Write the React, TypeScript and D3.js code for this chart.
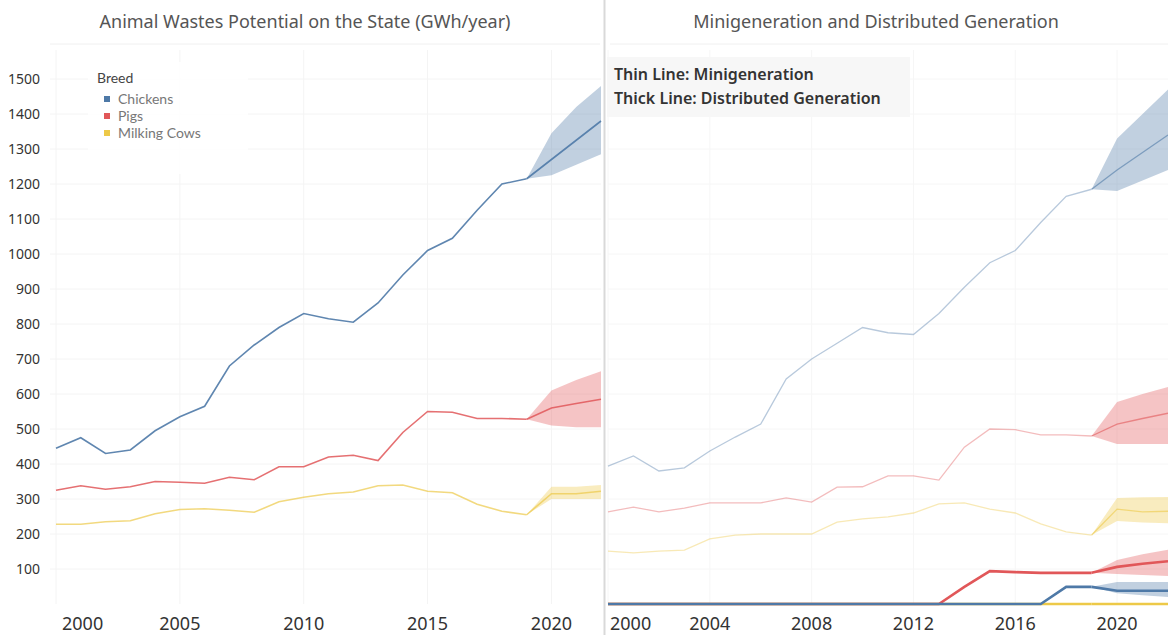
import React from "react";
import * as d3 from "d3";

// historical years and forecast years (forecast starts at last actual point)
const years = [2000, 2001, 2002, 2003, 2004, 2005, 2006, 2007, 2008, 2009, 2010, 2011, 2012, 2013, 2014, 2015, 2016, 2017, 2018, 2019];
const fcYears = [2019, 2020, 2021, 2022];

// left panel: animal wastes potential (GWh/year)
const chickens = [445, 475, 430, 440, 495, 535, 565, 680, 740, 790, 830, 815, 805, 860, 940, 1010, 1045, 1125, 1200, 1215];
const chickensFc = [1215, 1270, 1325, 1380];
const chickensLo = [1215, 1225, 1255, 1285];
const chickensHi = [1215, 1345, 1420, 1480];

const pigs = [325, 338, 328, 335, 350, 348, 345, 362, 355, 392, 392, 420, 425, 410, 490, 550, 548, 530, 530, 528];
const pigsFc = [528, 560, 573, 585];
const pigsLo = [528, 510, 505, 505];
const pigsHi = [528, 610, 640, 665];

const cows = [228, 228, 235, 238, 258, 270, 272, 268, 262, 292, 305, 315, 320, 338, 340, 322, 318, 285, 265, 255];
const cowsFc = [255, 315, 315, 322];
const cowsLo = [255, 300, 300, 300];
const cowsHi = [255, 335, 335, 340];

// right panel: minigeneration (thin lines)
const chickensMini = [394, 423, 380, 389, 437, 477, 514, 643, 700, 745, 790, 775, 770, 830, 905, 975, 1010, 1090, 1165, 1185];
const chickensMiniFc = [1185, 1240, 1290, 1340];
const chickensMiniLo = [1185, 1180, 1210, 1240];
const chickensMiniHi = [1185, 1330, 1400, 1470];

const pigsMini = [263, 277, 263, 274, 289, 289, 289, 303, 291, 334, 335, 366, 366, 354, 448, 500, 498, 483, 483, 480];
const pigsMiniFc = [480, 514, 530, 545];
const pigsMiniLo = [480, 457, 457, 457];
const pigsMiniHi = [480, 577, 600, 620];

const cowsMini = [151, 146, 151, 154, 186, 197, 200, 200, 200, 234, 243, 249, 260, 286, 289, 271, 260, 229, 206, 197];
const cowsMiniFc = [197, 271, 263, 265];
const cowsMiniLo = [197, 237, 233, 231];
const cowsMiniHi = [197, 303, 305, 306];

// right panel: distributed generation (thick lines)
const chickensDist = [0, 0, 0, 0, 0, 0, 0, 0, 0, 0, 0, 0, 0, 0, 0, 0, 0, 0, 49, 49];
const chickensDistFc = [49, 38, 38, 38];
const chickensDistLo = [49, 31, 25, 20];
const chickensDistHi = [49, 63, 63, 63];

const pigsDist = [0, 0, 0, 0, 0, 0, 0, 0, 0, 0, 0, 0, 0, 0, 49, 94, 91, 89, 89, 89];
const pigsDistFc = [89, 106, 115, 122];
const pigsDistLo = [89, 86, 83, 80];
const pigsDistHi = [89, 126, 142, 155];

const cowsDist = [0, 0, 0, 0, 0, 0, 0, 0, 0, 0, 0, 0, 0, 0, 0, 0, 0, 0, 0, 0];
const cowsDistFc = [0, 0, 0, 0];

const breeds = ["Chickens", "Pigs", "Milking Cows"];
const yTicks = [100, 200, 300, 400, 500, 600, 700, 800, 900, 1000, 1100, 1200, 1300, 1400, 1500];
const leftXTicks = [2000, 2005, 2010, 2015, 2020];
const rightXTicks = [2000, 2004, 2008, 2012, 2016, 2020];

const colors = ["#4e79a7", "#e15759", "#edc948"];
const font = "'Noto Sans', 'Open Sans', sans-serif";

const W = 1168;
const H = 635;

const y = d3.scaleLinear().domain([0, 1500]).range([604, 79]);
const xLeft = d3.scaleLinear().domain([2000, 2022]).range([56, 601]);
const xRight = d3.scaleLinear().domain([2000, 2022]).range([608, 1168]);

type S = d3.ScaleLinear<number, number>;

const linePath = (x: S, xs: number[], vs: number[]) =>
  d3.line<number>().x((_, i) => x(xs[i])).y((v) => y(v))(vs) || "";

const bandPath = (x: S, lo: number[], hi: number[]) =>
  d3.area<number>()
    .x((_, i) => x(fcYears[i]))
    .y0((_, i) => y(lo[i]))
    .y1((v) => y(v))(hi) || "";

const App = () => {
  const left = [
    { hist: chickens, fc: chickensFc, lo: chickensLo, hi: chickensHi, o: 0.9 },
    { hist: pigs, fc: pigsFc, lo: pigsLo, hi: pigsHi, o: 0.85 },
    { hist: cows, fc: cowsFc, lo: cowsLo, hi: cowsHi, o: 0.7 },
  ];
  const mini = [
    { hist: chickensMini, fc: chickensMiniFc, lo: chickensMiniLo, hi: chickensMiniHi },
    { hist: pigsMini, fc: pigsMiniFc, lo: pigsMiniLo, hi: pigsMiniHi },
    { hist: cowsMini, fc: cowsMiniFc, lo: cowsMiniLo, hi: cowsMiniHi },
  ];
  const dist = [
    { hist: cowsDist, fc: cowsDistFc, lo: cowsDistFc, hi: cowsDistFc, c: colors[2] },
    { hist: pigsDist, fc: pigsDistFc, lo: pigsDistLo, hi: pigsDistHi, c: colors[1] },
    { hist: chickensDist, fc: chickensDistFc, lo: chickensDistLo, hi: chickensDistHi, c: colors[0] },
  ];

  return (
    <div style={{ position: "fixed", left: 0, top: 0 }}>
      <svg width={W} height={H} style={{ display: "block", background: "#fff", fontFamily: font }}>
        {/* titles */}
        <text x={305} y={28} textAnchor="middle" fontSize={18} fill="#555">
          Animal Wastes Potential on the State (GWh/year)
        </text>
        <text x={876} y={28} textAnchor="middle" fontSize={18} fill="#555">
          Minigeneration and Distributed Generation
        </text>
        <line x1={50} x2={600} y1={44} y2={44} stroke="#f0f0f0" />
        <line x1={610} x2={1168} y1={44} y2={44} stroke="#f0f0f0" />

        {/* grid */}
        {yTicks.map((t) => (
          <g key={"g" + t}>
            <line x1={50} x2={601} y1={y(t)} y2={y(t)} stroke="#f4f4f4" />
            <line x1={608} x2={1168} y1={y(t)} y2={y(t)} stroke="#f6f6f6" />
          </g>
        ))}
        {leftXTicks.map((t) => (
          <line key={"vl" + t} x1={xLeft(t)} x2={xLeft(t)} y1={50} y2={604} stroke="#f4f4f4" />
        ))}
        {rightXTicks.map((t) => (
          <line key={"vr" + t} x1={xRight(t)} x2={xRight(t)} y1={50} y2={604} stroke="#f6f6f6" />
        ))}

        {/* separator */}
        <line x1={604.5} x2={604.5} y1={0} y2={H} stroke="#d9d9d9" strokeWidth={2} />

        {/* y axis labels */}
        {yTicks.map((t) => (
          <text key={"y" + t} x={40} y={y(t) + 5} textAnchor="end" fontSize={14} fill="#333">
            {t}
          </text>
        ))}

        {/* x axis labels */}
        {leftXTicks.map((t, i) => (
          <text key={"xl" + t} x={i === 0 ? 62 : xLeft(t)} y={630} textAnchor={i === 0 ? "start" : "middle"} fontSize={18} fill="#333">
            {t}
          </text>
        ))}
        {rightXTicks.map((t, i) => (
          <text key={"xr" + t} x={i === 0 ? 610 : xRight(t)} y={630} textAnchor={i === 0 ? "start" : "middle"} fontSize={18} fill="#333">
            {t}
          </text>
        ))}

        {/* left panel */}
        {left.map((s, i) => (
          <g key={"l" + i}>
            <path d={bandPath(xLeft, s.lo, s.hi)} fill={colors[i]} fillOpacity={0.35} />
            <path d={linePath(xLeft, years, s.hist)} fill="none" stroke={colors[i]} strokeOpacity={s.o} strokeWidth={1.6} />
            <path d={linePath(xLeft, fcYears, s.fc)} fill="none" stroke={colors[i]} strokeOpacity={s.o} strokeWidth={1.6} />
          </g>
        ))}

        {/* right panel thin lines */}
        {mini.map((s, i) => (
          <g key={"m" + i}>
            <path d={bandPath(xRight, s.lo, s.hi)} fill={colors[i]} fillOpacity={0.35} />
            <path d={linePath(xRight, years, s.hist)} fill="none" stroke={colors[i]} strokeOpacity={0.4} strokeWidth={1.3} />
            <path d={linePath(xRight, fcYears, s.fc)} fill="none" stroke={colors[i]} strokeOpacity={0.6} strokeWidth={1.3} />
          </g>
        ))}

        {/* right panel thick lines */}
        {dist.map((s, i) => (
          <g key={"d" + i}>
            <path d={bandPath(xRight, s.lo, s.hi)} fill={s.c} fillOpacity={0.35} />
            <path d={linePath(xRight, years, s.hist)} fill="none" stroke={s.c} strokeWidth={2.6} />
            <path d={linePath(xRight, fcYears, s.fc)} fill="none" stroke={s.c} strokeWidth={2.6} />
          </g>
        ))}

        {/* legend */}
        <rect x={88} y={62} width={160} height={112} fill="#fff" fillOpacity={0.85} />
        <text x={97} y={83} fontSize={14} fontFamily="Lato, sans-serif" fill="#444">Breed</text>
        {breeds.map((b, i) => (
          <g key={b}>
            <rect x={104} y={96 + i * 17} width={6} height={6} fill={colors[i]} />
            <text x={118} y={104 + i * 17} fontSize={14} fontFamily="Lato, sans-serif" fill="#777">{b}</text>
          </g>
        ))}

        {/* annotation */}
        <rect x={607} y={57} width={303} height={60} fill="#f7f7f7" />
        <text x={614} y={80} fontSize={16} fontWeight={600} fill="#333">Thin Line: Minigeneration</text>
        <text x={614} y={104} fontSize={16} fontWeight={600} fill="#333">Thick Line: Distributed Generation</text>
      </svg>
    </div>
  );
};

export default App;
